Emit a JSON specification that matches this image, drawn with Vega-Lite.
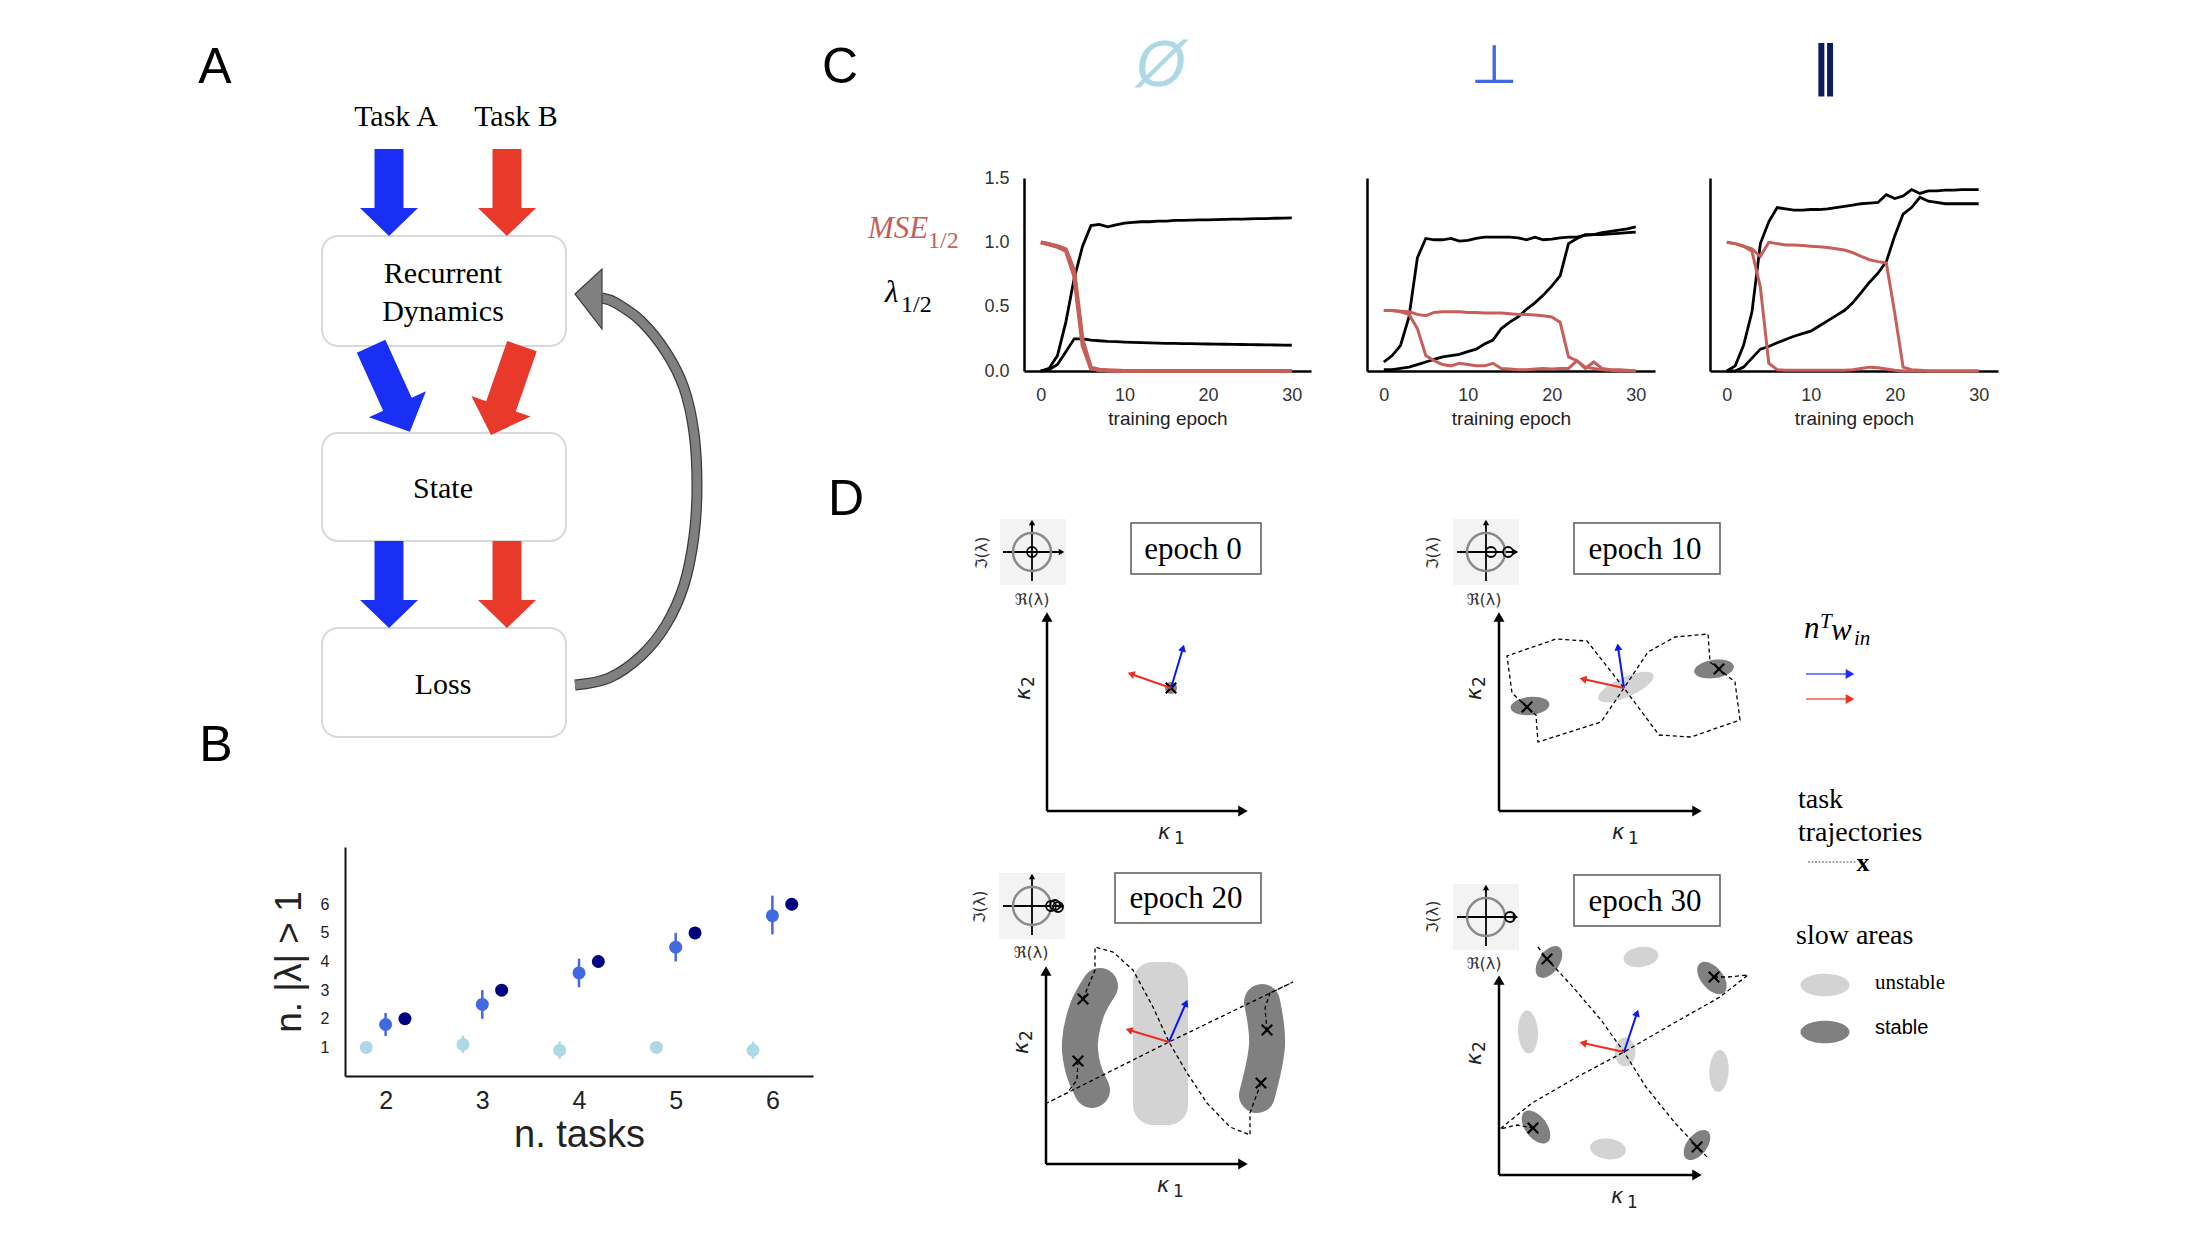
{
"$schema": "https://vega.github.io/schema/vega-lite/v6.json",
"width": 2198, "height": 1240, "padding": 0, "autosize": {"type": "none"},
"background": "white",
"config": {"view": {"stroke": null}, "axis": {"grid": false, "ticks": false}},
"datasets": {
"b": [
{"cond":"∅","x":1.8,"mean":1.0,"lo":1.0,"hi":1.0},{"cond":"∅","x":2.8,"mean":1.1,"lo":0.8,"hi":1.4},{"cond":"∅","x":3.8,"mean":0.9,"lo":0.6,"hi":1.2},{"cond":"∅","x":4.8,"mean":1.0,"lo":1.0,"hi":1.0},{"cond":"∅","x":5.8,"mean":0.9,"lo":0.6,"hi":1.2},
{"cond":"⊥","x":2,"mean":1.8,"lo":1.4,"hi":2.2},{"cond":"⊥","x":3,"mean":2.5,"lo":2.0,"hi":3.0},{"cond":"⊥","x":4,"mean":3.6,"lo":3.1,"hi":4.1},{"cond":"⊥","x":5,"mean":4.5,"lo":4.0,"hi":5.0},{"cond":"⊥","x":6,"mean":5.6,"lo":4.95,"hi":6.3},
{"cond":"∥","x":2.2,"mean":2,"lo":2,"hi":2},{"cond":"∥","x":3.2,"mean":3,"lo":3,"hi":3},{"cond":"∥","x":4.2,"mean":4,"lo":4,"hi":4},{"cond":"∥","x":5.2,"mean":5,"lo":5,"hi":5},{"cond":"∥","x":6.2,"mean":6,"lo":6,"hi":6}
],
"c": [
{"p":"none","e":0,"l1":0.0,"l2":0.0,"m1":1.0,"m2":1.0},
{"p":"none","e":1,"l1":0.02,"l2":0.01,"m1":0.985,"m2":0.985},
{"p":"none","e":2,"l1":0.12,"l2":0.05,"m1":0.97,"m2":0.965},
{"p":"none","e":3,"l1":0.38,"l2":0.15,"m1":0.945,"m2":0.935},
{"p":"none","e":4,"l1":0.72,"l2":0.25,"m1":0.78,"m2":0.74},
{"p":"none","e":5,"l1":0.97,"l2":0.25,"m1":0.24,"m2":0.2},
{"p":"none","e":6,"l1":1.13,"l2":0.24,"m1":0.025,"m2":0.02},
{"p":"none","e":7,"l1":1.14,"l2":0.235,"m1":0.01,"m2":0.008},
{"p":"none","e":8,"l1":1.12,"l2":0.23,"m1":0.005,"m2":0.004},
{"p":"none","e":9,"l1":1.135,"l2":0.228,"m1":0.002,"m2":0.002},
{"p":"none","e":10,"l1":1.15,"l2":0.225,"m1":0,"m2":0},
{"p":"none","e":11,"l1":1.155,"l2":0.222,"m1":0,"m2":0},
{"p":"none","e":12,"l1":1.16,"l2":0.22,"m1":0,"m2":0},
{"p":"none","e":13,"l1":1.16,"l2":0.218,"m1":0,"m2":0},
{"p":"none","e":14,"l1":1.165,"l2":0.216,"m1":0,"m2":0},
{"p":"none","e":15,"l1":1.165,"l2":0.215,"m1":0,"m2":0},
{"p":"none","e":16,"l1":1.17,"l2":0.214,"m1":0,"m2":0},
{"p":"none","e":17,"l1":1.17,"l2":0.213,"m1":0,"m2":0},
{"p":"none","e":18,"l1":1.172,"l2":0.212,"m1":0,"m2":0},
{"p":"none","e":19,"l1":1.174,"l2":0.211,"m1":0,"m2":0},
{"p":"none","e":20,"l1":1.175,"l2":0.21,"m1":0,"m2":0},
{"p":"none","e":21,"l1":1.176,"l2":0.209,"m1":0,"m2":0},
{"p":"none","e":22,"l1":1.178,"l2":0.208,"m1":0,"m2":0},
{"p":"none","e":23,"l1":1.18,"l2":0.207,"m1":0,"m2":0},
{"p":"none","e":24,"l1":1.181,"l2":0.206,"m1":0,"m2":0},
{"p":"none","e":25,"l1":1.182,"l2":0.205,"m1":0,"m2":0},
{"p":"none","e":26,"l1":1.184,"l2":0.204,"m1":0,"m2":0},
{"p":"none","e":27,"l1":1.185,"l2":0.203,"m1":0,"m2":0},
{"p":"none","e":28,"l1":1.187,"l2":0.202,"m1":0,"m2":0},
{"p":"none","e":29,"l1":1.188,"l2":0.201,"m1":0,"m2":0},
{"p":"none","e":30,"l1":1.19,"l2":0.2,"m1":0,"m2":0},
{"p":"perp","e":0,"l1":0.07,"l2":0.01,"m1":0.47,"m2":0.47},
{"p":"perp","e":1,"l1":0.12,"l2":0.01,"m1":0.47,"m2":0.47},
{"p":"perp","e":2,"l1":0.2,"l2":0.02,"m1":0.46,"m2":0.465},
{"p":"perp","e":3,"l1":0.42,"l2":0.03,"m1":0.44,"m2":0.46},
{"p":"perp","e":4,"l1":0.88,"l2":0.05,"m1":0.33,"m2":0.44},
{"p":"perp","e":5,"l1":1.03,"l2":0.07,"m1":0.12,"m2":0.43},
{"p":"perp","e":6,"l1":1.02,"l2":0.09,"m1":0.08,"m2":0.455},
{"p":"perp","e":7,"l1":1.02,"l2":0.11,"m1":0.05,"m2":0.46},
{"p":"perp","e":8,"l1":1.03,"l2":0.12,"m1":0.04,"m2":0.46},
{"p":"perp","e":9,"l1":1.01,"l2":0.13,"m1":0.06,"m2":0.46},
{"p":"perp","e":10,"l1":1.015,"l2":0.15,"m1":0.05,"m2":0.455},
{"p":"perp","e":11,"l1":1.03,"l2":0.17,"m1":0.04,"m2":0.455},
{"p":"perp","e":12,"l1":1.04,"l2":0.21,"m1":0.04,"m2":0.45},
{"p":"perp","e":13,"l1":1.04,"l2":0.24,"m1":0.06,"m2":0.45},
{"p":"perp","e":14,"l1":1.04,"l2":0.33,"m1":0.02,"m2":0.45},
{"p":"perp","e":15,"l1":1.04,"l2":0.38,"m1":0.015,"m2":0.445},
{"p":"perp","e":16,"l1":1.035,"l2":0.42,"m1":0.01,"m2":0.44},
{"p":"perp","e":17,"l1":1.02,"l2":0.48,"m1":0.01,"m2":0.44},
{"p":"perp","e":18,"l1":1.04,"l2":0.53,"m1":0.015,"m2":0.435},
{"p":"perp","e":19,"l1":1.02,"l2":0.59,"m1":0.02,"m2":0.43},
{"p":"perp","e":20,"l1":1.025,"l2":0.66,"m1":0.015,"m2":0.42},
{"p":"perp","e":21,"l1":1.035,"l2":0.74,"m1":0.02,"m2":0.38},
{"p":"perp","e":22,"l1":1.04,"l2":0.99,"m1":0.02,"m2":0.11},
{"p":"perp","e":23,"l1":1.04,"l2":1.03,"m1":0.08,"m2":0.08},
{"p":"perp","e":24,"l1":1.055,"l2":1.06,"m1":0.02,"m2":0.03},
{"p":"perp","e":25,"l1":1.06,"l2":1.06,"m1":0.07,"m2":0.02},
{"p":"perp","e":26,"l1":1.075,"l2":1.06,"m1":0.02,"m2":0.01},
{"p":"perp","e":27,"l1":1.085,"l2":1.065,"m1":0.01,"m2":0.005},
{"p":"perp","e":28,"l1":1.095,"l2":1.07,"m1":0.01,"m2":0},
{"p":"perp","e":29,"l1":1.105,"l2":1.075,"m1":0.005,"m2":0},
{"p":"perp","e":30,"l1":1.12,"l2":1.08,"m1":0,"m2":0},
{"p":"par","e":0,"l1":0.0,"l2":0.0,"m1":1.0,"m2":1.0},
{"p":"par","e":1,"l1":0.04,"l2":0.0,"m1":0.99,"m2":0.99},
{"p":"par","e":2,"l1":0.2,"l2":0.03,"m1":0.97,"m2":0.97},
{"p":"par","e":3,"l1":0.46,"l2":0.1,"m1":0.93,"m2":0.95},
{"p":"par","e":4,"l1":0.99,"l2":0.17,"m1":0.65,"m2":0.89},
{"p":"par","e":5,"l1":1.16,"l2":0.19,"m1":0.06,"m2":1.0},
{"p":"par","e":6,"l1":1.27,"l2":0.22,"m1":0.01,"m2":0.99},
{"p":"par","e":7,"l1":1.26,"l2":0.245,"m1":0.005,"m2":0.98},
{"p":"par","e":8,"l1":1.25,"l2":0.27,"m1":0.005,"m2":0.98},
{"p":"par","e":9,"l1":1.25,"l2":0.29,"m1":0.005,"m2":0.975},
{"p":"par","e":10,"l1":1.255,"l2":0.31,"m1":0.005,"m2":0.97},
{"p":"par","e":11,"l1":1.255,"l2":0.35,"m1":0.005,"m2":0.965},
{"p":"par","e":12,"l1":1.26,"l2":0.39,"m1":0.005,"m2":0.96},
{"p":"par","e":13,"l1":1.27,"l2":0.43,"m1":0.005,"m2":0.95},
{"p":"par","e":14,"l1":1.28,"l2":0.47,"m1":0.005,"m2":0.94},
{"p":"par","e":15,"l1":1.29,"l2":0.53,"m1":0.01,"m2":0.92},
{"p":"par","e":16,"l1":1.3,"l2":0.61,"m1":0.02,"m2":0.89},
{"p":"par","e":17,"l1":1.305,"l2":0.69,"m1":0.03,"m2":0.865},
{"p":"par","e":18,"l1":1.31,"l2":0.76,"m1":0.025,"m2":0.85},
{"p":"par","e":19,"l1":1.37,"l2":0.85,"m1":0.015,"m2":0.84},
{"p":"par","e":20,"l1":1.34,"l2":1.05,"m1":0.005,"m2":0.45},
{"p":"par","e":21,"l1":1.36,"l2":1.22,"m1":0,"m2":0.03},
{"p":"par","e":22,"l1":1.41,"l2":1.27,"m1":0,"m2":0.01},
{"p":"par","e":23,"l1":1.38,"l2":1.35,"m1":0,"m2":0.005},
{"p":"par","e":24,"l1":1.4,"l2":1.32,"m1":0,"m2":0},
{"p":"par","e":25,"l1":1.4,"l2":1.31,"m1":0,"m2":0},
{"p":"par","e":26,"l1":1.405,"l2":1.3,"m1":0,"m2":0},
{"p":"par","e":27,"l1":1.405,"l2":1.3,"m1":0,"m2":0},
{"p":"par","e":28,"l1":1.41,"l2":1.3,"m1":0,"m2":0},
{"p":"par","e":29,"l1":1.41,"l2":1.3,"m1":0,"m2":0},
{"p":"par","e":30,"l1":1.41,"l2":1.3,"m1":0,"m2":0}
],
"ell": [
{"x":182.5,"y":98.5,"maj":4.9,"mnr":2.25,"ang":0,"kind":"unstable"},
{"x":182.5,"y":103.2,"maj":4.9,"mnr":2.25,"ang":0,"kind":"stable"},
{"x":117.1,"y":68.8,"maj":1.2,"mnr":1.2,"ang":0,"kind":"stable"},
{"x":153.0,"y":70.6,"maj":3.9,"mnr":1.75,"ang":-6,"kind":"stable"},
{"x":171.4,"y":66.9,"maj":4.0,"mnr":1.8,"ang":-8,"kind":"stable"},
{"x":162.6,"y":68.7,"maj":6.0,"mnr":1.9,"ang":-24,"kind":"unstable"},
{"x":164.1,"y":95.7,"maj":3.5,"mnr":2.1,"ang":-8,"kind":"unstable"},
{"x":152.8,"y":103.2,"maj":4.3,"mnr":2.0,"ang":87,"kind":"unstable"},
{"x":162.5,"y":105.2,"maj":2.9,"mnr":2.1,"ang":90,"kind":"unstable"},
{"x":171.9,"y":107.1,"maj":4.2,"mnr":2.0,"ang":93,"kind":"unstable"},
{"x":160.8,"y":114.9,"maj":3.6,"mnr":2.1,"ang":6,"kind":"unstable"},
{"x":154.9,"y":96.2,"maj":3.6,"mnr":1.95,"ang":-55,"kind":"stable"},
{"x":171.2,"y":97.8,"maj":3.8,"mnr":2.0,"ang":50,"kind":"stable"},
{"x":153.6,"y":112.7,"maj":3.8,"mnr":2.0,"ang":53,"kind":"stable"},
{"x":169.7,"y":114.5,"maj":3.5,"mnr":2.0,"ang":-52,"kind":"stable"}
],
"traj": [
{"t":"d2a","i":0,"x":152.7,"y":70.7},{"t":"d2a","i":1,"x":151.2,"y":69.3},{"t":"d2a","i":2,"x":150.7,"y":65.6},{"t":"d2a","i":3,"x":155.6,"y":63.9},{"t":"d2a","i":4,"x":158.7,"y":64.1},{"t":"d2a","i":5,"x":162.4,"y":68.8},{"t":"d2a","i":6,"x":165.9,"y":73.5},{"t":"d2a","i":7,"x":169.1,"y":73.7},{"t":"d2a","i":8,"x":174.0,"y":72.0},{"t":"d2a","i":9,"x":173.5,"y":68.2},{"t":"d2a","i":10,"x":171.9,"y":66.9},
{"t":"d2b","i":0,"x":171.9,"y":66.9},{"t":"d2b","i":1,"x":171.0,"y":66.2},{"t":"d2b","i":2,"x":170.8,"y":63.4},{"t":"d2b","i":3,"x":167.5,"y":63.7},{"t":"d2b","i":4,"x":164.8,"y":65.2},{"t":"d2b","i":5,"x":162.4,"y":68.8},{"t":"d2b","i":6,"x":160.1,"y":72.2},{"t":"d2b","i":7,"x":156.0,"y":73.5},{"t":"d2b","i":8,"x":153.8,"y":74.2},{"t":"d2b","i":9,"x":153.6,"y":71.5},{"t":"d2b","i":10,"x":152.7,"y":70.7},
{"t":"d3a","i":0,"x":107.8,"y":106.1},{"t":"d3a","i":1,"x":107.7,"y":108.0},{"t":"d3a","i":2,"x":106.7,"y":109.3},{"t":"d3a","i":3,"x":104.7,"y":110.3},{"t":"d3a","i":4,"x":116.9,"y":104.2},{"t":"d3a","i":5,"x":129.3,"y":98.2},{"t":"d3a","i":6,"x":127.0,"y":99.3},{"t":"d3a","i":7,"x":126.5,"y":100.8},{"t":"d3a","i":8,"x":126.7,"y":103.0},
{"t":"d3b","i":0,"x":108.3,"y":99.9},{"t":"d3b","i":1,"x":109.5,"y":97.0},{"t":"d3b","i":2,"x":109.5,"y":94.7},{"t":"d3b","i":3,"x":111.3,"y":95.2},{"t":"d3b","i":4,"x":113.3,"y":97.0},{"t":"d3b","i":5,"x":115.3,"y":100.7},{"t":"d3b","i":6,"x":116.9,"y":104.2},{"t":"d3b","i":7,"x":118.7,"y":107.3},{"t":"d3b","i":8,"x":120.7,"y":110.3},{"t":"d3b","i":9,"x":123.0,"y":112.7},{"t":"d3b","i":10,"x":125.0,"y":113.5},{"t":"d3b","i":11,"x":125.0,"y":111.3},{"t":"d3b","i":12,"x":126.1,"y":108.3},
{"t":"d4a","i":0,"x":153.8,"y":94.7},{"t":"d4a","i":1,"x":154.7,"y":95.9},{"t":"d4a","i":2,"x":157.3,"y":98.7},{"t":"d4a","i":3,"x":160.1,"y":102.0},{"t":"d4a","i":4,"x":162.4,"y":105.2},{"t":"d4a","i":5,"x":164.6,"y":108.7},{"t":"d4a","i":6,"x":167.5,"y":112.3},{"t":"d4a","i":7,"x":170.8,"y":115.8},
{"t":"d4b","i":0,"x":171.4,"y":97.7},{"t":"d4b","i":1,"x":172.8,"y":97.7},{"t":"d4b","i":2,"x":174.8,"y":97.5},{"t":"d4b","i":3,"x":172.0,"y":99.7},{"t":"d4b","i":4,"x":166.7,"y":102.7},{"t":"d4b","i":5,"x":162.4,"y":105.2},{"t":"d4b","i":6,"x":157.7,"y":107.7},{"t":"d4b","i":7,"x":153.2,"y":110.3},{"t":"d4b","i":8,"x":150.0,"y":112.9},{"t":"d4b","i":9,"x":151.7,"y":112.5},{"t":"d4b","i":10,"x":153.3,"y":112.8}
],
"darr": [
{"x":117.1,"y":68.8,"x2":118.3,"y2":64.8,"task":"A","ang":16.7},
{"x":117.1,"y":68.8,"x2":113.1,"y2":67.4,"task":"B","ang":-70.7},
{"x":162.4,"y":68.8,"x2":161.8,"y2":64.7,"task":"A","ang":-8.3},
{"x":162.4,"y":68.8,"x2":158.3,"y2":67.9,"task":"B","ang":-77.6},
{"x":116.9,"y":104.2,"x2":118.6,"y2":100.3,"task":"A","ang":23.6},
{"x":116.9,"y":104.2,"x2":112.9,"y2":103.0,"task":"B","ang":-73.3},
{"x":162.4,"y":105.2,"x2":163.7,"y2":101.3,"task":"A","ang":18.4},
{"x":162.4,"y":105.2,"x2":158.3,"y2":104.3,"task":"B","ang":-77.6}
],
"legarr": [
{"x":180.6,"y":67.4,"x2":185.0,"y2":67.4,"task":"A","ang":90},
{"x":180.6,"y":69.9,"x2":185.0,"y2":69.9,"task":"B","ang":90}
]
},
"layer": [
{
"encoding": {
 "x": {"field":"x","type":"quantitative","scale":{"domain":[0,219.8],"range":[0,2198],"nice":false,"zero":false},"axis":null},
 "y": {"field":"y","type":"quantitative","scale":{"domain":[0,124],"range":[0,1240],"nice":false,"zero":false},"axis":null}
},
"layer": [
 {"data":{"values":[{"x":32.2,"x2":56.6,"y":23.6,"y2":34.6},{"x":32.2,"x2":56.6,"y":43.3,"y2":54.1},{"x":32.2,"x2":56.6,"y":62.8,"y2":73.7}]},
  "mark":{"type":"rect","fill":"white","stroke":"#d9d9d9","strokeWidth":2,"cornerRadius":16},
  "encoding":{"x2":{"field":"x2"},"y2":{"field":"y2"}}},
 {"data":{"values":[{"i":0,"x":57.5,"y":68.5},{"i":1,"x":60.9,"y":67.8},{"i":2,"x":64.1,"y":65.6},{"i":3,"x":66.6,"y":62.5},{"i":4,"x":68.4,"y":58.5},{"i":5,"x":69.4,"y":53.6},{"i":6,"x":69.7,"y":48.6},{"i":7,"x":69.4,"y":43.3},{"i":8,"x":68.4,"y":38.8},{"i":9,"x":66.6,"y":35.2},{"i":10,"x":64.1,"y":32.1},{"i":11,"x":61.6,"y":30.3},{"i":12,"x":60.2,"y":29.8}]},
  "layer":[
   {"mark":{"type":"line","color":"#3c3c3c","strokeWidth":11,"interpolate":"cardinal"},"encoding":{"order":{"field":"i"}}},
   {"mark":{"type":"line","color":"#808080","strokeWidth":8.5,"interpolate":"cardinal"},"encoding":{"order":{"field":"i"}}}
  ]},
 {"data":{"values":[{"x":58.85,"y":29.9}]},
  "mark":{"type":"point","shape":"M-0.45,-0.167L0.45,-1L0.45,1Z","size":3600,"filled":true,"fill":"#808080","stroke":"#3c3c3c","strokeWidth":1.2,"opacity":1}},
 {"data":{"values":[{"x":38.9,"y":19.25,"task":"A","ang":0},{"x":50.7,"y":19.25,"task":"B","ang":0},{"x":38.9,"y":58.45,"task":"A","ang":0},{"x":50.7,"y":58.45,"task":"B","ang":0}]},
  "mark":{"type":"point","shape":"M-0.333,-1L0.333,-1L0.333,0.356L0.667,0.356L0,1L-0.667,0.356L-0.333,0.356Z","size":7569,"filled":true,"opacity":1,"strokeWidth":0},
  "encoding":{"color":{"field":"task","type":"nominal","scale":{"domain":["A","B"],"range":["#1a2ff5","#e8392a"]},"legend":null},"angle":{"field":"ang","type":"quantitative","scale":null}}},
 {"data":{"values":[{"x":39.05,"y":38.9,"task":"A","ang":-24.4},{"x":50.65,"y":39.05,"task":"B","ang":19.2}]},
  "mark":{"type":"point","shape":"M-0.333,-1L0.333,-1L0.333,0.356L0.667,0.356L0,1L-0.667,0.356L-0.333,0.356Z","size":8836,"filled":true,"opacity":1,"strokeWidth":0},
  "encoding":{"color":{"field":"task","type":"nominal","scale":{"domain":["A","B"],"range":["#1a2ff5","#e8392a"]},"legend":null},"angle":{"field":"ang","type":"quantitative","scale":null}}},
 {"data":{"values":[{"x":100.0,"x2":106.6,"y":51.9,"y2":58.5},{"x":145.3,"x2":151.9,"y":51.9,"y2":58.5},{"x":99.9,"x2":106.5,"y":87.3,"y2":93.9},{"x":145.3,"x2":151.9,"y":88.4,"y2":95.0}]},
  "mark":{"type":"rect","fill":"#f3f3f3"},
  "encoding":{"x2":{"field":"x2"},"y2":{"field":"y2"}}},
 {"data":{"values":[{"x":113.1,"x2":126.1,"y":52.3,"y2":57.4},{"x":157.4,"x2":172.0,"y":52.3,"y2":57.4},{"x":111.5,"x2":126.1,"y":87.3,"y2":92.3},{"x":157.4,"x2":172.0,"y":87.5,"y2":92.6}]},
  "mark":{"type":"rect","fill":"white","stroke":"#5a5a5a","strokeWidth":1.5},
  "encoding":{"x2":{"field":"x2"},"y2":{"field":"y2"}}},
 {"data":{"name":"ell"},"transform":[{"filter":"datum.mnr / datum.maj <= 0.4"}],
  "mark":{"type":"point","shape":"M-1,0C-1,-0.182,-0.552,-0.33,0,-0.33C0.552,-0.33,1,-0.182,1,0C1,0.182,0.552,0.33,0,0.33C-0.552,0.33,-1,0.182,-1,0Z","filled":true,"opacity":1,"strokeWidth":0},
  "encoding":{"size":{"field":"maj","type":"quantitative","scale":{"type":"pow","exponent":2,"domain":[0,10],"range":[0,10000]},"legend":null},"color":{"field":"kind","type":"nominal","scale":{"domain":["stable","unstable"],"range":["#808080","#d3d3d3"]},"legend":null},"angle":{"field":"ang","type":"quantitative","scale":null}}},
 {"data":{"name":"ell"},"transform":[{"filter":"datum.mnr / datum.maj > 0.4 && datum.mnr / datum.maj <= 0.52"}],
  "mark":{"type":"point","shape":"M-1,0C-1,-0.254,-0.552,-0.46,0,-0.46C0.552,-0.46,1,-0.254,1,0C1,0.254,0.552,0.46,0,0.46C-0.552,0.46,-1,0.254,-1,0Z","filled":true,"opacity":1,"strokeWidth":0},
  "encoding":{"size":{"field":"maj","type":"quantitative","scale":{"type":"pow","exponent":2,"domain":[0,10],"range":[0,10000]},"legend":null},"color":{"field":"kind","type":"nominal","scale":{"domain":["stable","unstable"],"range":["#808080","#d3d3d3"]},"legend":null},"angle":{"field":"ang","type":"quantitative","scale":null}}},
 {"data":{"name":"ell"},"transform":[{"filter":"datum.mnr / datum.maj > 0.52 && datum.mnr / datum.maj <= 0.65"}],
  "mark":{"type":"point","shape":"M-1,0C-1,-0.315,-0.552,-0.57,0,-0.57C0.552,-0.57,1,-0.315,1,0C1,0.315,0.552,0.57,0,0.57C-0.552,0.57,-1,0.315,-1,0Z","filled":true,"opacity":1,"strokeWidth":0},
  "encoding":{"size":{"field":"maj","type":"quantitative","scale":{"type":"pow","exponent":2,"domain":[0,10],"range":[0,10000]},"legend":null},"color":{"field":"kind","type":"nominal","scale":{"domain":["stable","unstable"],"range":["#808080","#d3d3d3"]},"legend":null},"angle":{"field":"ang","type":"quantitative","scale":null}}},
 {"data":{"name":"ell"},"transform":[{"filter":"datum.mnr / datum.maj > 0.65 && datum.mnr / datum.maj <= 0.85"}],
  "mark":{"type":"point","shape":"M-1,0C-1,-0.397,-0.552,-0.72,0,-0.72C0.552,-0.72,1,-0.397,1,0C1,0.397,0.552,0.72,0,0.72C-0.552,0.72,-1,0.397,-1,0Z","filled":true,"opacity":1,"strokeWidth":0},
  "encoding":{"size":{"field":"maj","type":"quantitative","scale":{"type":"pow","exponent":2,"domain":[0,10],"range":[0,10000]},"legend":null},"color":{"field":"kind","type":"nominal","scale":{"domain":["stable","unstable"],"range":["#808080","#d3d3d3"]},"legend":null},"angle":{"field":"ang","type":"quantitative","scale":null}}},
 {"data":{"name":"ell"},"transform":[{"filter":"datum.mnr / datum.maj > 0.85"}],
  "mark":{"type":"point","shape":"circle","filled":true,"opacity":1,"strokeWidth":0},
  "encoding":{"size":{"field":"maj","type":"quantitative","scale":{"type":"pow","exponent":2,"domain":[0,10],"range":[0,10000]},"legend":null},"color":{"field":"kind","type":"nominal","scale":{"domain":["stable","unstable"],"range":["#808080","#d3d3d3"]},"legend":null}}},
 {"data":{"values":[{"x":113.3,"x2":118.8,"y":96.2,"y2":112.5,"kind":"unstable"}]},
  "mark":{"type":"rect","cornerRadius":20},
  "encoding":{"x2":{"field":"x2"},"y2":{"field":"y2"},"color":{"field":"kind","type":"nominal","scale":{"domain":["stable","unstable"],"range":["#808080","#d3d3d3"]},"legend":null}}},
 {"data":{"values":[{"id":"L","i":0,"x":110.0,"y":98.6,"kind":"stable"},{"id":"L","i":1,"x":108.7,"y":101.0,"kind":"stable"},{"id":"L","i":2,"x":108.0,"y":104.2,"kind":"stable"},{"id":"L","i":3,"x":108.3,"y":106.8,"kind":"stable"},{"id":"L","i":4,"x":109.2,"y":109.0,"kind":"stable"},
  {"id":"R","i":0,"x":126.2,"y":100.2,"kind":"stable"},{"id":"R","i":1,"x":126.7,"y":104.5,"kind":"stable"},{"id":"R","i":2,"x":125.7,"y":109.5,"kind":"stable"}]},
  "mark":{"type":"line","strokeWidth":36,"strokeCap":"round","strokeJoin":"round","interpolate":"cardinal"},
  "encoding":{"detail":{"field":"id"},"order":{"field":"i"},"color":{"field":"kind","type":"nominal","scale":{"domain":["stable","unstable"],"range":["#808080","#d3d3d3"]},"legend":null}}},
 {"data":{"name":"traj"},
  "mark":{"type":"line","color":"black","strokeWidth":1.3,"strokeDash":[4,3]},
  "encoding":{"detail":{"field":"t"},"order":{"field":"i"}}},
 {"data":{"values":[{"x":100.3,"x2":106.0,"y":55.2,"y2":55.2},{"x":103.2,"x2":103.2,"y":58.1,"y2":52.4},{"x":145.7,"x2":151.4,"y":55.2,"y2":55.2},{"x":148.6,"x2":148.6,"y":58.1,"y2":52.4},{"x":100.3,"x2":106.0,"y":90.6,"y2":90.6},{"x":103.2,"x2":103.2,"y":93.5,"y2":87.8},{"x":145.7,"x2":151.4,"y":91.7,"y2":91.7},{"x":148.6,"x2":148.6,"y":94.6,"y2":88.9}]},
  "mark":{"type":"rule","color":"black","strokeWidth":1.8},
  "encoding":{"x2":{"field":"x2"},"y2":{"field":"y2"}}},
 {"data":{"values":[{"x":106.15,"y":55.2},{"x":151.55,"y":55.2},{"x":106.15,"y":90.6},{"x":151.55,"y":91.7}]},
  "mark":{"type":"point","shape":"triangle-right","size":40,"filled":true,"color":"black","opacity":1}},
 {"data":{"values":[{"x":103.2,"y":52.25},{"x":148.6,"y":52.25},{"x":103.2,"y":87.65},{"x":148.6,"y":88.75}]},
  "mark":{"type":"point","shape":"triangle-up","size":40,"filled":true,"color":"black","opacity":1}},
 {"data":{"values":[{"x":103.2,"y":55.2},{"x":148.6,"y":55.2},{"x":103.2,"y":90.6},{"x":148.6,"y":91.7}]},
  "mark":{"type":"point","shape":"circle","size":1444,"filled":false,"color":"#8a8a8a","strokeWidth":2.5,"opacity":1}},
 {"data":{"values":[{"x":103.2,"y":55.2},{"x":149.1,"y":55.2},{"x":150.8,"y":55.2},{"x":105.1,"y":90.6},{"x":105.5,"y":90.5},{"x":105.8,"y":90.7},{"x":151.0,"y":91.7}]},
  "mark":{"type":"point","shape":"circle","size":100,"filled":false,"color":"black","strokeWidth":1.8,"opacity":1}},
 {"data":{"values":[{"x":104.7,"x2":104.7,"y":81.1,"y2":62.0},{"x":104.7,"x2":124.0,"y":81.1,"y2":81.1},{"x":149.9,"x2":149.9,"y":81.1,"y2":62.0},{"x":149.9,"x2":169.4,"y":81.1,"y2":81.1},{"x":104.6,"x2":104.6,"y":116.4,"y2":97.4},{"x":104.6,"x2":124.0,"y":116.4,"y2":116.4},{"x":149.9,"x2":149.9,"y":117.5,"y2":98.3},{"x":149.9,"x2":169.4,"y":117.5,"y2":117.5}]},
  "mark":{"type":"rule","color":"black","strokeWidth":2.5},
  "encoding":{"x2":{"field":"x2"},"y2":{"field":"y2"}}},
 {"data":{"values":[{"x":104.7,"y":61.7},{"x":149.9,"y":61.7},{"x":104.6,"y":97.1},{"x":149.9,"y":98.0}]},
  "mark":{"type":"point","shape":"triangle-up","size":121,"filled":true,"color":"black","opacity":1}},
 {"data":{"values":[{"x":124.3,"y":81.1},{"x":169.7,"y":81.1},{"x":124.3,"y":116.4},{"x":169.7,"y":117.5}]},
  "mark":{"type":"point","shape":"triangle-right","size":121,"filled":true,"color":"black","opacity":1}},
 {"data":{"values":[{"x":117.1,"y":68.8},{"x":152.7,"y":70.7},{"x":171.9,"y":66.9},{"x":108.3,"y":99.9},{"x":107.8,"y":106.1},{"x":126.7,"y":103.0},{"x":126.1,"y":108.3},{"x":154.7,"y":95.9},{"x":171.4,"y":97.7},{"x":153.3,"y":112.8},{"x":169.7,"y":114.7}]},
  "mark":{"type":"point","shape":"M-1,-1L1,1M-1,1L1,-1","size":110,"filled":false,"color":"black","strokeWidth":2.2,"opacity":1}},
 {"data":{"name":"darr"},
  "mark":{"type":"rule","strokeWidth":2},
  "encoding":{"x2":{"field":"x2"},"y2":{"field":"y2"},"color":{"field":"task","type":"nominal","scale":{"domain":["A","B"],"range":["#0b17f2","#ee2c1e"]},"legend":null}}},
 {"data":{"name":"darr"},
  "mark":{"type":"point","shape":"triangle-up","size":64,"filled":true,"opacity":1,"strokeWidth":0},
  "encoding":{"x":{"field":"x2","type":"quantitative","axis":null},"y":{"field":"y2","type":"quantitative","axis":null},"color":{"field":"task","type":"nominal","scale":{"domain":["A","B"],"range":["#0b17f2","#ee2c1e"]},"legend":null},"angle":{"field":"ang","type":"quantitative","scale":null}}},
 {"data":{"name":"legarr"},
  "mark":{"type":"rule","strokeWidth":2},
  "encoding":{"x2":{"field":"x2"},"y2":{"field":"y2"},"color":{"field":"task","type":"nominal","scale":{"domain":["A","B"],"range":["#7485f5","#f2877c"]},"legend":null}}},
 {"data":{"name":"legarr"},
  "mark":{"type":"point","shape":"triangle-up","size":100,"filled":true,"opacity":1,"strokeWidth":0},
  "encoding":{"x":{"field":"x2","type":"quantitative","axis":null},"y":{"field":"y2","type":"quantitative","axis":null},"color":{"field":"task","type":"nominal","scale":{"domain":["A","B"],"range":["#1b2ef0","#ee3324"]},"legend":null},"angle":{"field":"ang","type":"quantitative","scale":null}}},
 {"data":{"values":[{"x":180.8,"x2":185.6,"y":86.2,"y2":86.2}]},
  "mark":{"type":"rule","color":"#555555","strokeWidth":1,"strokeDash":[2,1.5]},
  "encoding":{"x2":{"field":"x2"},"y2":{"field":"y2"}}},
 {"data":{"values":[{"x":21.5,"y":6.8,"t":"A"},{"x":21.6,"y":74.6,"t":"B"},{"x":84.0,"y":6.8,"t":"C"},{"x":84.6,"y":50.0,"t":"D"}]},
  "mark":{"type":"text","font":"Liberation Sans","fontSize":50,"align":"center","baseline":"middle","color":"black"},
  "encoding":{"text":{"field":"t"}}},
 {"data":{"values":[{"x":39.6,"y":11.7,"t":"Task A"},{"x":51.6,"y":11.7,"t":"Task B"},{"x":44.3,"y":27.4,"t":"Recurrent"},{"x":44.3,"y":31.2,"t":"Dynamics"},{"x":44.3,"y":48.9,"t":"State"},{"x":44.3,"y":68.5,"t":"Loss"}]},
  "mark":{"type":"text","font":"Liberation Serif","fontSize":30,"align":"center","baseline":"middle","color":"black"},
  "encoding":{"text":{"field":"t"}}},
 {"data":{"values":[{"x":119.3,"y":55.0,"t":"epoch 0"},{"x":164.5,"y":55.0,"t":"epoch 10"},{"x":118.6,"y":89.9,"t":"epoch 20"},{"x":164.5,"y":90.2,"t":"epoch 30"}]},
  "mark":{"type":"text","font":"Liberation Serif","fontSize":31,"align":"center","baseline":"middle","color":"black"},
  "encoding":{"text":{"field":"t"}}},
 {"data":{"values":[{"x":179.8,"y":80.0,"t":"task"},{"x":179.8,"y":83.3,"t":"trajectories"},{"x":179.6,"y":93.6,"t":"slow areas"}]},
  "mark":{"type":"text","font":"Liberation Serif","fontSize":28,"align":"left","baseline":"middle","color":"black"},
  "encoding":{"text":{"field":"t"}}},
 {"data":{"values":[{"x":187.5,"y":98.3,"t":"unstable"}]},
  "mark":{"type":"text","font":"Liberation Serif","fontSize":21,"align":"left","baseline":"middle","color":"black"},
  "encoding":{"text":{"field":"t"}}},
 {"data":{"values":[{"x":187.5,"y":102.8,"t":"stable"}]},
  "mark":{"type":"text","font":"Liberation Sans Narrow, Liberation Sans","fontSize":20,"align":"left","baseline":"middle","color":"black"},
  "encoding":{"text":{"field":"t"}}},
 {"data":{"values":[{"x":186.3,"y":86.3,"t":"x"}]},
  "mark":{"type":"text","font":"Liberation Serif","fontSize":26,"fontWeight":"bold","align":"center","baseline":"middle","color":"black"},
  "encoding":{"text":{"field":"t"}}},
 {"data":{"values":[{"x":115.8,"y":83.9,"t":"κ"},{"x":161.2,"y":83.9,"t":"κ"},{"x":115.7,"y":119.2,"t":"κ"},{"x":161.1,"y":120.3,"t":"κ"}]},
  "mark":{"type":"text","font":"DejaVu Sans","fontStyle":"italic","fontSize":21,"align":"left","baseline":"alphabetic","color":"#222222"},
  "encoding":{"text":{"field":"t"}}},
 {"data":{"values":[{"x":117.4,"y":84.4,"t":"1"},{"x":162.8,"y":84.4,"t":"1"},{"x":117.3,"y":119.7,"t":"1"},{"x":162.7,"y":120.8,"t":"1"}]},
  "mark":{"type":"text","font":"DejaVu Sans","fontSize":17,"align":"left","baseline":"alphabetic","color":"#222222"},
  "encoding":{"text":{"field":"t"}}},
 {"data":{"values":[{"x":103.0,"y":70.0,"t":"κ"},{"x":148.1,"y":70.0,"t":"κ"},{"x":102.8,"y":105.4,"t":"κ"},{"x":148.1,"y":106.5,"t":"κ"}]},
  "mark":{"type":"text","font":"DejaVu Sans","fontStyle":"italic","fontSize":21,"align":"left","baseline":"alphabetic","angle":270,"color":"#222222"},
  "encoding":{"text":{"field":"t"}}},
 {"data":{"values":[{"x":103.4,"y":68.7,"t":"2"},{"x":148.5,"y":68.7,"t":"2"},{"x":103.2,"y":104.1,"t":"2"},{"x":148.5,"y":105.2,"t":"2"}]},
  "mark":{"type":"text","font":"DejaVu Sans","fontSize":17,"align":"left","baseline":"alphabetic","angle":270,"color":"#222222"},
  "encoding":{"text":{"field":"t"}}},
 {"data":{"values":[{"x":103.2,"y":60.0,"t":"ℜ(λ)"},{"x":148.4,"y":60.0,"t":"ℜ(λ)"},{"x":103.1,"y":95.3,"t":"ℜ(λ)"},{"x":148.4,"y":96.4,"t":"ℜ(λ)"}]},
  "mark":{"type":"text","font":"DejaVu Sans","fontSize":16,"align":"center","baseline":"middle","color":"#333333"},
  "encoding":{"text":{"field":"t"}}},
 {"data":{"values":[{"x":98.2,"y":55.3,"t":"ℑ(λ)"},{"x":143.3,"y":55.3,"t":"ℑ(λ)"},{"x":98.0,"y":90.7,"t":"ℑ(λ)"},{"x":143.3,"y":91.7,"t":"ℑ(λ)"}]},
  "mark":{"type":"text","font":"DejaVu Sans","fontSize":16,"align":"center","baseline":"middle","angle":270,"color":"#333333"},
  "encoding":{"text":{"field":"t"}}},
 {"data":{"values":[{"x":116.1,"y":6.7,"t":"Ø"}]},
  "mark":{"type":"text","font":"Liberation Sans","fontStyle":"italic","fontSize":64,"align":"center","baseline":"middle","color":"#add8e6"},
  "encoding":{"text":{"field":"t"}}},
 {"data":{"values":[{"x":149.4,"y":6.7,"t":"⊥"}]},
  "mark":{"type":"text","font":"DejaVu Sans","fontSize":54,"align":"center","baseline":"middle","color":"#4169e1"},
  "encoding":{"text":{"field":"t"}}},
 {"data":{"values":[{"x":182.5,"y":6.8,"t":"‖"}]},
  "mark":{"type":"text","font":"DejaVu Sans","fontWeight":"bold","fontSize":54,"align":"center","baseline":"middle","color":"#0c1c5c"},
  "encoding":{"text":{"field":"t"}}},
 {"data":{"values":[{"x":86.8,"y":23.8,"t":"MSE"}]},
  "mark":{"type":"text","font":"Liberation Serif","fontStyle":"italic","fontSize":31,"align":"left","baseline":"alphabetic","color":"#c65f5a"},
  "encoding":{"text":{"field":"t"}}},
 {"data":{"values":[{"x":92.8,"y":24.8,"t":"1/2"}]},
  "mark":{"type":"text","font":"Liberation Serif","fontSize":24,"align":"left","baseline":"alphabetic","color":"#c65f5a"},
  "encoding":{"text":{"field":"t"}}},
 {"data":{"values":[{"x":88.5,"y":30.2,"t":"λ"},{"x":180.4,"y":63.8,"t":"n"},{"x":183.1,"y":64.0,"t":"w"}]},
  "mark":{"type":"text","font":"Liberation Serif","fontStyle":"italic","fontSize":31,"align":"left","baseline":"alphabetic","color":"black"},
  "encoding":{"text":{"field":"t"}}},
 {"data":{"values":[{"x":90.1,"y":31.2,"t":"1/2"}]},
  "mark":{"type":"text","font":"Liberation Serif","fontSize":24,"align":"left","baseline":"alphabetic","color":"black"},
  "encoding":{"text":{"field":"t"}}},
 {"data":{"values":[{"x":182.0,"y":62.8,"t":"T"},{"x":185.4,"y":64.5,"t":"in"}]},
  "mark":{"type":"text","font":"Liberation Serif","fontStyle":"italic","fontSize":21,"align":"left","baseline":"alphabetic","color":"black"},
  "encoding":{"text":{"field":"t"}}}
],
"resolve": {"scale": {"color": "independent", "size": "independent"}}
},
{
"data": {"name": "b"},
"encoding": {
 "x": {"field":"x","type":"quantitative","scale":{"domain":[1.58,6.42],"range":[345,813],"nice":false,"zero":false},
   "axis":{"orient":"bottom","offset":-164,"values":[2,3,4,5,6],"format":"d","domainColor":"#111111","domainWidth":2,"ticks":false,"grid":false,"labelFont":"Liberation Sans Narrow, Liberation Sans","labelFontSize":25,"labelColor":"#222222","labelPadding":12,"title":"n. tasks","titleFont":"Liberation Sans Narrow, Liberation Sans","titleFontSize":38,"titleFontWeight":"normal","titleColor":"#222222","titlePadding":3}},
 "y": {"field":"mean","type":"quantitative","scale":{"domain":[0,8],"range":[1076,847],"nice":false,"zero":false},
   "axis":{"orient":"left","offset":-345,"values":[1,2,3,4,5,6],"format":"d","domainColor":"#111111","domainWidth":2,"ticks":false,"grid":false,"labelFont":"Liberation Sans Narrow, Liberation Sans","labelFontSize":16,"labelColor":"#222222","labelPadding":16,"title":"n. |λ| > 1","titleFont":"Liberation Sans Narrow, Liberation Sans","titleFontSize":37,"titleFontWeight":"normal","titleColor":"#222222","titlePadding":12}},
 "color": {"field":"cond","type":"nominal","scale":{"domain":["∅","⊥","∥"],"range":["#add8e6","#4169e1","#000080"]},"legend":null}
},
"layer": [
 {"transform":[{"filter":"datum.hi > datum.lo"}],"mark":{"type":"rule","strokeWidth":2.5},
  "encoding":{"y":{"field":"lo","type":"quantitative","scale":{"domain":[0,8],"range":[1076,847],"nice":false,"zero":false},
   "axis":{"orient":"left","offset":-345,"values":[1,2,3,4,5,6],"format":"d","domainColor":"#111111","domainWidth":2,"ticks":false,"grid":false,"labelFont":"Liberation Sans Narrow, Liberation Sans","labelFontSize":16,"labelColor":"#222222","labelPadding":16,"title":"n. |λ| > 1","titleFont":"Liberation Sans Narrow, Liberation Sans","titleFontSize":37,"titleFontWeight":"normal","titleColor":"#222222","titlePadding":12}},
   "y2":{"field":"hi"}}},
 {"mark":{"type":"circle","size":169,"opacity":1}}
]
},
{
"data": {"name": "c"},
"transform": [{"filter":"datum.p == 'none'"},{"fold":["l1","l2","m1","m2"],"as":["s","v"]}],
"encoding": {
 "x": {"field":"e","type":"quantitative","scale":{"domain":[-2,32.3],"range":[1024,1311],"nice":false,"zero":false},
   "axis":{"orient":"bottom","offset":-869,"values":[0,10,20,30],"domainColor":"black","domainWidth":2.5,"ticks":false,"grid":false,"labelFont":"Liberation Sans","labelFontSize":18,"labelColor":"#333333","labelPadding":15,"title":"training epoch","titleFont":"Liberation Sans","titleFontSize":19,"titleFontWeight":"normal","titleColor":"#222222","titlePadding":5}},
 "y": {"field":"v","type":"quantitative","scale":{"domain":[0,1.5],"range":[371,178],"nice":false,"zero":false},
   "axis":{"orient":"left","offset":-1024,"values":[0,0.5,1,1.5],"format":".1f","domainColor":"black","domainWidth":2.5,"ticks":false,"grid":false,"labelFont":"Liberation Sans","labelFontSize":18,"labelColor":"#333333","labelPadding":15,"title":null}}
},
"layer": [
 {"data":{"values":[{"e":-2,"e2":32.3}]},"mark":{"type":"rule","color":"#aaaaaa","strokeWidth":1.5},"encoding":{"x2":{"field":"e2"},"y":{"datum":1}}},
 {"transform":[{"filter":"datum.s == 'l1' || datum.s == 'l2'"}],"mark":{"type":"line","color":"black","strokeWidth":2.8},"encoding":{"detail":{"field":"s"}}},
 {"transform":[{"filter":"datum.s == 'm1' || datum.s == 'm2'"}],"mark":{"type":"line","color":"#c65f5a","strokeWidth":4},"encoding":{"detail":{"field":"s"}}}
]
},
{
"data": {"name": "c"},
"transform": [{"filter":"datum.p == 'perp'"},{"fold":["l1","l2","m1","m2"],"as":["s","v"]}],
"encoding": {
 "x": {"field":"e","type":"quantitative","scale":{"domain":[-2,32.3],"range":[1367,1655],"nice":false,"zero":false},
   "axis":{"orient":"bottom","offset":-869,"values":[0,10,20,30],"domainColor":"black","domainWidth":2.5,"ticks":false,"grid":false,"labelFont":"Liberation Sans","labelFontSize":18,"labelColor":"#333333","labelPadding":15,"title":"training epoch","titleFont":"Liberation Sans","titleFontSize":19,"titleFontWeight":"normal","titleColor":"#222222","titlePadding":5}},
 "y": {"field":"v","type":"quantitative","scale":{"domain":[0,1.5],"range":[371,178],"nice":false,"zero":false},
   "axis":{"orient":"left","offset":-1367,"labels":false,"domainColor":"black","domainWidth":2.5,"ticks":false,"grid":false,"title":null}}
},
"layer": [
 {"data":{"values":[{"e":-2,"e2":32.3}]},"mark":{"type":"rule","color":"#aaaaaa","strokeWidth":1.5},"encoding":{"x2":{"field":"e2"},"y":{"datum":1}}},
 {"transform":[{"filter":"datum.s == 'l1' || datum.s == 'l2'"}],"mark":{"type":"line","color":"black","strokeWidth":2.8},"encoding":{"detail":{"field":"s"}}},
 {"transform":[{"filter":"datum.s == 'm1' || datum.s == 'm2'"}],"mark":{"type":"line","color":"#c65f5a","strokeWidth":3},"encoding":{"detail":{"field":"s"}}}
]
},
{
"data": {"name": "c"},
"transform": [{"filter":"datum.p == 'par'"},{"fold":["l1","l2","m1","m2"],"as":["s","v"]}],
"encoding": {
 "x": {"field":"e","type":"quantitative","scale":{"domain":[-2,32.3],"range":[1710,1998],"nice":false,"zero":false},
   "axis":{"orient":"bottom","offset":-869,"values":[0,10,20,30],"domainColor":"black","domainWidth":2.5,"ticks":false,"grid":false,"labelFont":"Liberation Sans","labelFontSize":18,"labelColor":"#333333","labelPadding":15,"title":"training epoch","titleFont":"Liberation Sans","titleFontSize":19,"titleFontWeight":"normal","titleColor":"#222222","titlePadding":5}},
 "y": {"field":"v","type":"quantitative","scale":{"domain":[0,1.5],"range":[371,178],"nice":false,"zero":false},
   "axis":{"orient":"left","offset":-1710,"labels":false,"domainColor":"black","domainWidth":2.5,"ticks":false,"grid":false,"title":null}}
},
"layer": [
 {"data":{"values":[{"e":-0.5,"e2":0.5},{"e":9.5,"e2":10.5},{"e":19.5,"e2":20.5},{"e":29.5,"e2":30.5}]},"mark":{"type":"rect","color":"#eeeeee"},"encoding":{"x2":{"field":"e2"},"y":{"datum":0},"y2":{"datum":1.5}}},
 {"data":{"values":[{"e":-2,"e2":32.3}]},"mark":{"type":"rule","color":"#aaaaaa","strokeWidth":1.5},"encoding":{"x2":{"field":"e2"},"y":{"datum":1}}},
 {"transform":[{"filter":"datum.s == 'l1' || datum.s == 'l2'"}],"mark":{"type":"line","color":"black","strokeWidth":2.8},"encoding":{"detail":{"field":"s"}}},
 {"transform":[{"filter":"datum.s == 'm1' || datum.s == 'm2'"}],"mark":{"type":"line","color":"#c65f5a","strokeWidth":3},"encoding":{"detail":{"field":"s"}}}
]
}
],
"resolve": {"scale": {"x":"independent","y":"independent","color":"independent","size":"independent"}, "axis": {"x":"independent","y":"independent"}}
}
